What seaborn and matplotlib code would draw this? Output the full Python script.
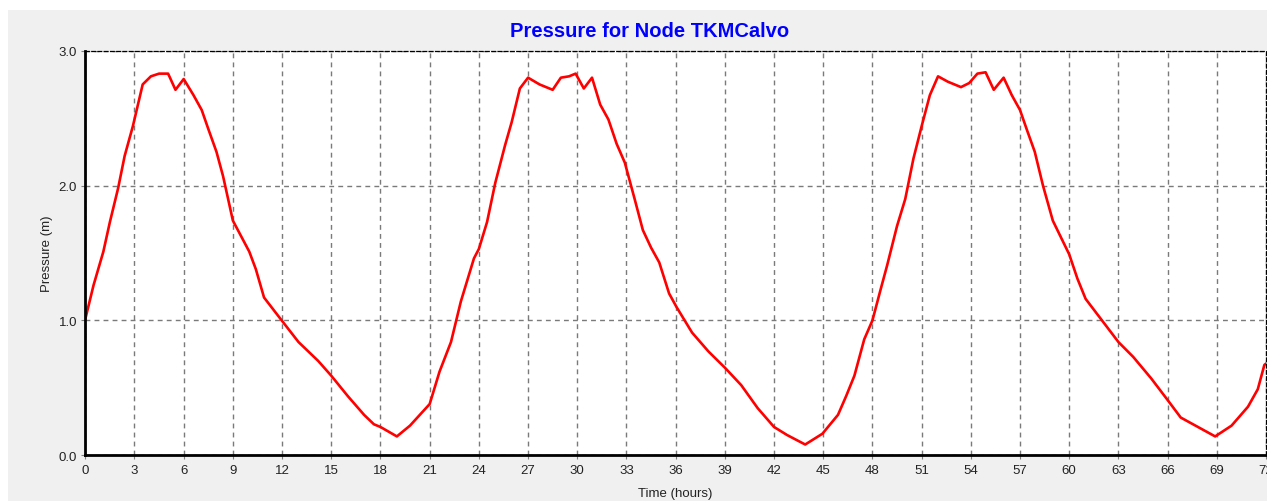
import matplotlib
matplotlib.use("Agg")
import matplotlib.pyplot as plt
from matplotlib.patches import Rectangle
import seaborn as sns
import pandas as pd

# pressure readings for node TKMCalvo (hours, metres)
hours = [0, 0.5, 1.1, 1.5, 2, 2.4, 2.9, 3.5, 4, 4.5, 5.05, 5.5, 6, 6.6, 7.1, 7.5, 8, 8.4,
         9, 10, 10.4, 10.9, 11.85, 13, 14.2, 15, 16, 17, 17.6, 18, 19, 19.8, 21, 21.6,
         22.3, 22.9, 23.7, 24, 24.5, 25, 25.6, 26, 26.5, 27, 27.7, 28.5, 29, 29.5, 29.9,
         30.4, 30.9, 31.4, 31.9, 32.4, 32.9, 33.5, 34, 34.5, 35, 35.6, 36.05, 37, 38, 39,
         40, 41, 42, 42.8, 43.9, 44.95, 45.9, 46.4, 46.9, 47.5, 48, 48.5, 48.9, 49.5, 50,
         50.5, 51, 51.5, 52, 52.6, 53.4, 53.9, 54.4, 54.9, 55.4, 56, 56.5, 57, 57.4, 57.9,
         58.4, 59, 60, 60.5, 61, 62, 63, 63.9, 65, 66, 66.8, 67.85, 68.9, 69.9, 70.9,
         71.5, 71.9, 72]
pressure = [1.01, 1.26, 1.51, 1.73, 1.98, 2.22, 2.44, 2.75, 2.81, 2.83, 2.83, 2.71, 2.79,
            2.67, 2.56, 2.42, 2.25, 2.07, 1.74, 1.51, 1.38, 1.17, 1.02, 0.84, 0.70, 0.59,
            0.44, 0.30, 0.23, 0.21, 0.14, 0.22, 0.38, 0.62, 0.84, 1.14, 1.46, 1.53, 1.73,
            2.02, 2.30, 2.47, 2.72, 2.80, 2.75, 2.71, 2.80, 2.81, 2.83, 2.72, 2.80, 2.60,
            2.49, 2.31, 2.17, 1.90, 1.67, 1.54, 1.43, 1.20, 1.10, 0.91, 0.77, 0.65, 0.52,
            0.35, 0.21, 0.15, 0.08, 0.16, 0.30, 0.44, 0.59, 0.86, 1.00, 1.23, 1.41, 1.70,
            1.90, 2.20, 2.44, 2.67, 2.81, 2.77, 2.73, 2.76, 2.83, 2.84, 2.71, 2.80, 2.67,
            2.56, 2.42, 2.25, 2.00, 1.74, 1.49, 1.31, 1.16, 1.00, 0.84, 0.73, 0.57, 0.41,
            0.28, 0.21, 0.14, 0.22, 0.36, 0.49, 0.67, 0.68]
x_ticks = list(range(0, 73, 3))
y_ticks = [0.0, 1.0, 2.0, 3.0]

sns.set_style("white")
plt.rcParams['font.family'] = ['Liberation Sans', 'DejaVu Sans']

W, H = 1267, 502
fig = plt.figure(figsize=(W / 100, H / 100), dpi=100, facecolor='white')
# gray window panel behind the chart
fig.patches.append(Rectangle((8 / W, 0), 1 - 8 / W, 1 - 11 / H, transform=fig.transFigure,
                             facecolor='#f0f0f0', edgecolor='none', zorder=-10))

ax = fig.add_axes([85.3 / W, 45.7 / H, (1266 - 85.3) / W, (456.3 - 51.7) / H])
ax.set_zorder(1)
ax.set_facecolor('white')

df = pd.DataFrame({'Time': hours, 'Pressure': pressure})
sns.lineplot(data=df, x='Time', y='Pressure', color='#ff0000', linewidth=1.9, ax=ax)

ax.set_xlim(0, 72)
ax.set_ylim(0, 3)
ax.set_xticks(x_ticks)
ax.set_xticklabels([str(t) for t in x_ticks])
ax.set_yticks(y_ticks)
ax.set_yticklabels(['%.1f' % v for v in y_ticks])
ax.grid(True, color='#7a7a7a', linestyle=(0, (3.5, 3)), linewidth=1.0)
ax.tick_params(axis='both', length=3, width=0.8, color='#808080', labelsize=9.5,
               labelcolor='#222222', pad=3, direction='out')
ax.tick_params(axis='x', bottom=True)
ax.tick_params(axis='y', left=True)

for side in ['left', 'bottom']:
    ax.spines[side].set_color('black')
    ax.spines[side].set_linewidth(2)
for side in ['top', 'right']:
    ax.spines[side].set_color('black')
    ax.spines[side].set_linewidth(0.9)
    ax.spines[side].set_linestyle((0, (3, 2)))

ax.set_xlabel('Time (hours)', fontsize=9.5, color='#222222', labelpad=8)
ax.set_ylabel('Pressure (m)', fontsize=9.5, color='#222222', labelpad=4)

fig.text(650 / W, 1 - 32 / H, 'Pressure for Node TKMCalvo', color='#0000ff',
         fontsize=14.5, fontweight='bold', ha='center', va='center')

fig.savefig('out.png', dpi=100, facecolor='white')
